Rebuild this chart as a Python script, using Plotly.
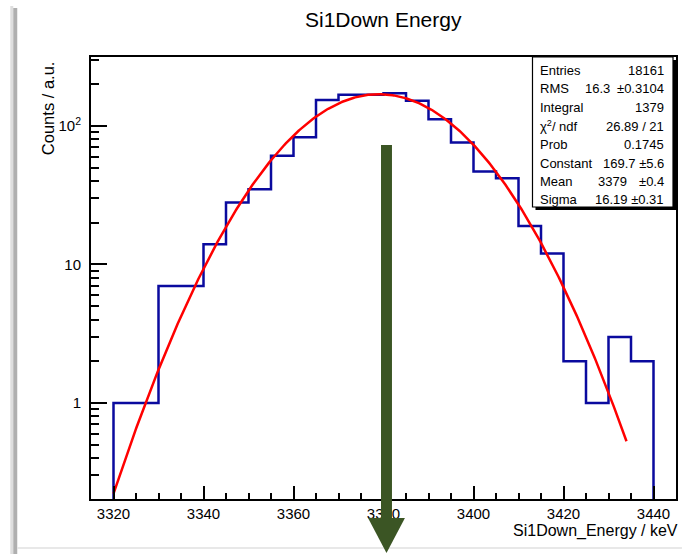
import numpy as np
import plotly.graph_objects as go

# ---------------- data ----------------
bin_low_edges = [3315, 3320, 3325, 3330, 3335, 3340, 3345, 3350, 3355, 3360,
                 3365, 3370, 3375, 3380, 3385, 3390, 3395, 3400, 3405, 3410,
                 3415, 3420, 3425, 3430, 3435, 3440]
bin_width = 5
counts = [0, 1, 1, 7, 7, 14, 28, 35, 61, 83,
          154, 168, 168, 172, 152, 112, 76, 47, 42, 19,
          12, 2, 1, 3, 2, 0]

fit_constant = 169.7
fit_mean = 3379.0
fit_sigma = 16.19
fit_range = [3320, 3434]

x_major_ticks = [3320, 3340, 3360, 3380, 3400, 3420, 3440]
y_major_ticks = [1, 10, 100]
y_major_text = ["1", "10", "10<sup>2</sup>"]
y_minor_ticks = [0.2, 0.3, 0.4, 0.5, 0.6, 0.7, 0.8, 0.9,
                 2, 3, 4, 5, 6, 7, 8, 9,
                 20, 30, 40, 50, 60, 70, 80, 90, 200, 300]

stats_labels = ["Entries", "RMS", "Integral", "χ<sup>2</sup>/ ndf", "Prob",
                "Constant", "Mean", "Sigma"]
stats_values = ["18161", "±0.3104", "1379", "26.89 / 21", "0.1745",
                "169.7 ±5.6", "±0.4", "16.19 ±0.31"]
stats_mid = {1: "16.3", 6: "3379"}

# ---------------- geometry ----------------
W, H = 684, 554
L, R, T, B = 91, 6, 57, 55
PW, PH = W - L - R, H - T - B


def px(xp):
    return (xp - L) / PW


def py(yp):
    return (H - B - yp) / PH


FONT = "Liberation Sans, Arial, Helvetica, sans-serif"

# histogram step line
edges = list(bin_low_edges) + [bin_low_edges[-1] + bin_width]
vals = [c if c > 0 else 1e-3 for c in counts]
step_y = vals + [vals[-1]]

fx = np.linspace(fit_range[0], fit_range[1], 400)
fy = fit_constant * np.exp(-0.5 * ((fx - fit_mean) / fit_sigma) ** 2)

fig = go.Figure()
fig.add_trace(go.Scatter(x=edges, y=step_y, mode="lines",
                         line=dict(shape="hv", color="#0a0a9e", width=2.5),
                         showlegend=False, hoverinfo="skip"))
fig.add_trace(go.Scatter(x=fx, y=fy, mode="lines",
                         line=dict(color="#ff0000", width=2.5),
                         showlegend=False, hoverinfo="skip"))

shapes = []
# page shadow on left and bottom
shapes.append(dict(type="rect", xref="paper", yref="paper",
                   x0=px(10), x1=px(13), y0=py(554), y1=py(6),
                   fillcolor="rgb(222,222,222)", line=dict(width=0), layer="below"))
shapes.append(dict(type="rect", xref="paper", yref="paper",
                   x0=px(13), x1=px(17), y0=py(554), y1=py(8),
                   fillcolor="rgb(175,175,175)", line=dict(width=0), layer="below"))
shapes.append(dict(type="line", xref="paper", yref="paper",
                   x0=px(17), x1=px(684), y0=py(548), y1=py(548),
                   line=dict(color="rgb(225,225,225)", width=1.5), layer="below"))

# stats box (shadow + box)
shapes.append(dict(type="rect", xref="paper", yref="paper",
                   x0=px(537), x1=px(678), y0=py(210), y1=py(60),
                   fillcolor="black", line=dict(width=0), layer="above"))
shapes.append(dict(type="rect", xref="paper", yref="paper",
                   x0=px(534), x1=px(675), y0=py(207), y1=py(57),
                   fillcolor="white", line=dict(color="black", width=1.2),
                   layer="above"))

# green arrow (above the tick labels)
ARROW = "#3b5524"
shapes.append(dict(type="rect", xref="paper", yref="paper",
                   x0=px(382), x1=px(393), y0=py(519), y1=py(145),
                   fillcolor=ARROW, line=dict(width=0), layer="above"))
tri = "M {},{} L {},{} L {},{} Z".format(px(369), py(518), px(406), py(518),
                                        px(387.5), py(553))
shapes.append(dict(type="path", xref="paper", yref="paper", path=tri,
                   fillcolor=ARROW, line=dict(width=0), layer="above"))

annotations = []
row_y = [70, 89, 107, 126, 144, 163, 181, 199]
for i, (lab, val) in enumerate(zip(stats_labels, stats_values)):
    annotations.append(dict(xref="paper", yref="paper", x=px(540), y=py(row_y[i]),
                            text=lab, showarrow=False, xanchor="left",
                            yanchor="middle",
                            font=dict(family=FONT, size=13, color="black")))
    annotations.append(dict(xref="paper", yref="paper", x=px(668), y=py(row_y[i]),
                            text=val, showarrow=False, xanchor="right",
                            yanchor="middle",
                            font=dict(family=FONT, size=13, color="black")))
for i, txt in stats_mid.items():
    xr = 614 if i == 1 else 631
    annotations.append(dict(xref="paper", yref="paper", x=px(xr), y=py(row_y[i]),
                            text=txt, showarrow=False, xanchor="right",
                            yanchor="middle",
                            font=dict(family=FONT, size=13, color="black")))

# title
annotations.append(dict(xref="paper", yref="paper", x=px(385), y=py(19),
                        text="Si1Down Energy", showarrow=False,
                        xanchor="center", yanchor="middle",
                        font=dict(family=FONT, size=21, color="black")))
# axis titles
annotations.append(dict(xref="paper", yref="paper", x=px(681), y=py(531),
                        text="Si1Down_Energy / keV", showarrow=False,
                        xanchor="right", yanchor="middle", borderpad=0,
                        font=dict(family=FONT, size=16, color="black")))
annotations.append(dict(xref="paper", yref="paper", x=px(48), y=py(59),
                        text="Counts / a.u.", showarrow=False, textangle=-90,
                        xanchor="center", yanchor="top",
                        font=dict(family=FONT, size=16.5, color="black")))

fig.update_layout(
    width=W, height=H,
    margin=dict(l=L, r=R, t=T, b=B, pad=0),
    paper_bgcolor="white", plot_bgcolor="white",
    shapes=shapes, annotations=annotations,
    font=dict(family=FONT, color="black"),
    xaxis=dict(range=[3315, 3445], showgrid=False, zeroline=False,
               showline=True, linecolor="black", linewidth=2, mirror=True,
               ticks="inside", ticklen=13, tickwidth=2, tickcolor="black",
               tickmode="array", tickvals=x_major_ticks,
               ticktext=[str(v) for v in x_major_ticks],
               tickfont=dict(family=FONT, size=15, color="black"),
               minor=dict(ticks="inside", ticklen=6, tickwidth=2,
                          tickcolor="black", tick0=3315, dtick=5,
                          showgrid=False)),
    yaxis=dict(type="log", range=[-0.693, 2.498], showgrid=False,
               zeroline=False, showline=True, linecolor="black", linewidth=2,
               mirror=True, ticks="inside", ticklen=16, tickwidth=2,
               tickcolor="black", tickmode="array", tickvals=y_major_ticks,
               ticktext=y_major_text, ticklabelstandoff=5,
               tickfont=dict(family=FONT, size=15, color="black"),
               minor=dict(ticks="inside", ticklen=8, tickwidth=2,
                          tickcolor="black", tickmode="array",
                          tickvals=y_minor_ticks, showgrid=False)),
)

fig.write_html("out.html")
